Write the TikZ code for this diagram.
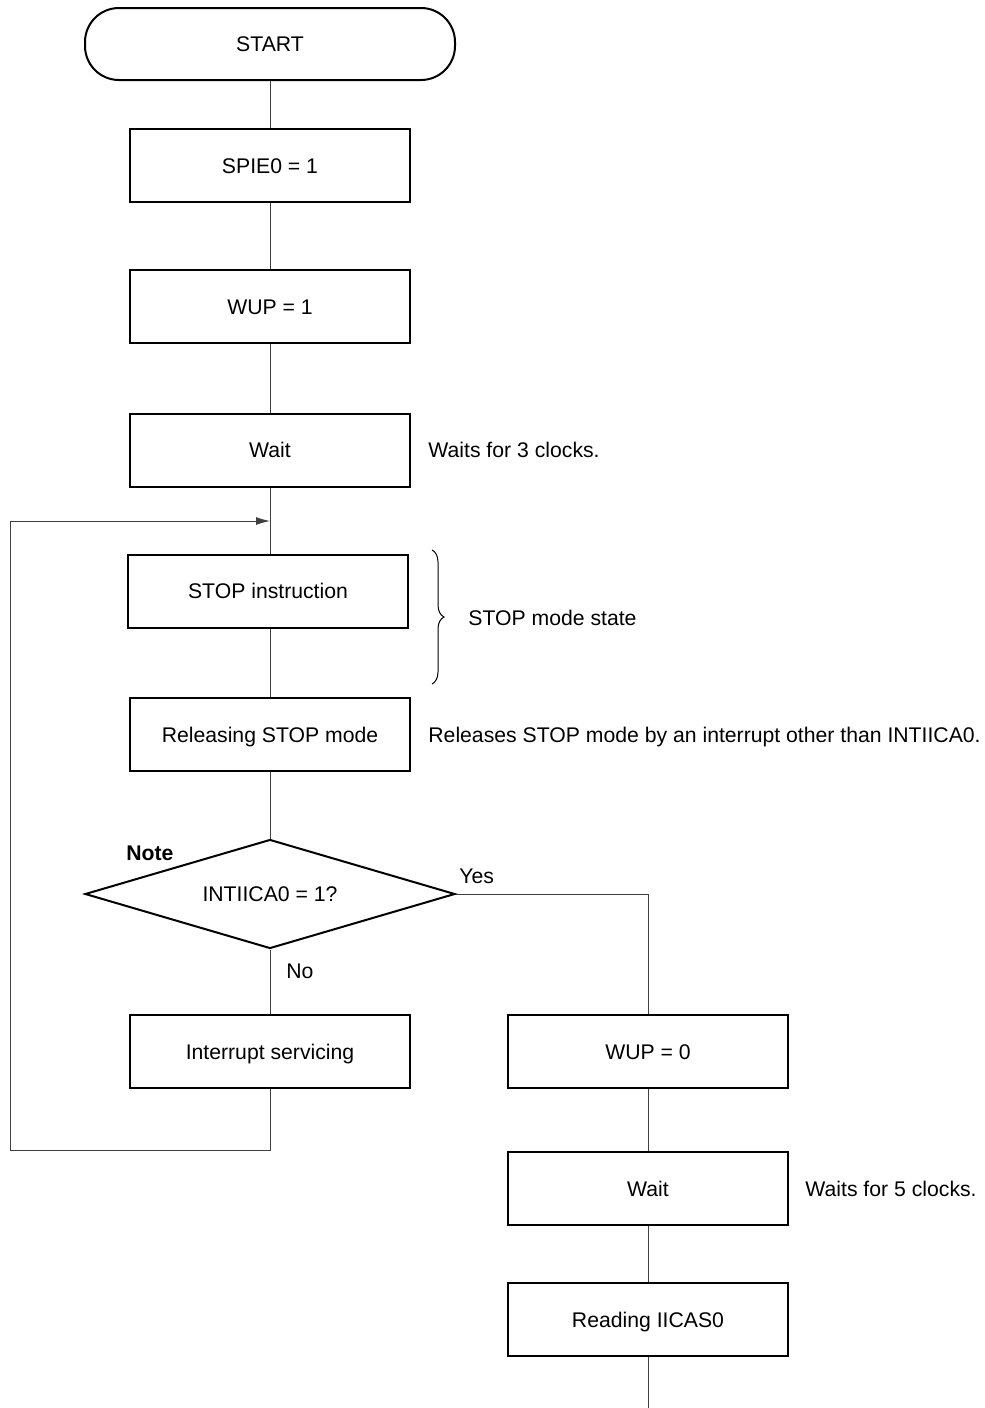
\documentclass[tikz,border=0pt]{standalone}
\usepackage{fontspec}
\setmainfont{Liberation Sans}
\usetikzlibrary{shapes.geometric,decorations.pathreplacing,arrows.meta}
\begin{document}
\begin{tikzpicture}[x=0.5pt,y=-0.5pt,
  every node/.style={font=\fontsize{10.6}{12.7}\selectfont},
  procbox/.style={draw=black,line width=1pt,minimum width=140pt,minimum height=36.5pt,inner sep=0pt,text height=7.6pt,text depth=0pt},
  termbox/.style={draw=black,line width=1pt,rounded corners=17pt,minimum width=185pt,minimum height=36pt,inner sep=0pt,text height=7.6pt,text depth=0pt},
  decbox/.style={draw=black,line width=1pt,diamond,aspect=3.4,minimum width=185pt,minimum height=54.5pt,inner sep=0pt,text height=7.6pt,text depth=0pt},
  conn/.style={draw=black!75,line width=0.5pt},
  note/.style={anchor=west,inner sep=0pt,text height=7.6pt,text depth=0pt}]
\useasboundingbox (0,0) rectangle (985,1408);
\node[termbox] (start) at (270,44) {START};
\node[procbox] (spie) at (270,165.5) {SPIE0 = 1};
\node[procbox] (wup1) at (270,306.5) {WUP = 1};
\node[procbox] (wait1) at (270,450) {Wait};
\node[note] (n1) at (428,450) {Waits for 3 clocks.};
\coordinate (loopin) at (270,521);
\node[procbox] (stop) at (268,591) {STOP instruction};
\node[note] (n2) at (468,618) {STOP mode state};
\node[procbox] (rel) at (270,734.5) {Releasing STOP mode};
\node[note] (n3) at (428,734.5) {Releases STOP mode by an interrupt other than INTIICA0.};
\node[decbox] (dec) at (270,894) {INTIICA0 = 1?};
\node[note,font=\fontsize{10.6}{12.7}\selectfont\bfseries] (note) at (126,853) {Note};
\node[note] (yes) at (459,876) {Yes};
\node[note] (no) at (286,971) {No};
\node[procbox] (isr) at (270,1051.5) {Interrupt servicing};
\node[procbox] (wup0) at (648,1051.5) {WUP = 0};
\node[procbox] (wait2) at (648,1188.5) {Wait};
\node[note] (n4) at (805,1188.5) {Waits for 5 clocks.};
\node[procbox] (read) at (648,1319.5) {Reading IICAS0};
\coordinate (endpt) at (648,1408);
\coordinate (c1) at (270,1150);
\coordinate (c2) at (10,1150);
\coordinate (c3) at (10,521);
\coordinate (c4) at (648,894);
\coordinate (b1) at (432,550);
\coordinate (b2) at (432,684);
\draw[conn] (start) -- (spie);
\draw[conn] (spie) -- (wup1);
\draw[conn] (wup1) -- (wait1);
\draw[conn] (wait1.south) -- (stop.north -| wait1.south);
\draw[conn] (stop.south -| rel.north) -- (rel);
\draw[conn] (rel) -- (dec);
\draw[conn] (dec) -- (isr);
\draw[conn] (isr.south) -- (c1) -- (c2) -- (c3);
\draw[conn,-{Latex[length=7pt,width=4pt]}] (c3) -- (loopin);
\draw[conn] (dec.east) -- (c4) -- (wup0.north);
\draw[conn] (wup0) -- (wait2);
\draw[conn] (wait2) -- (read);
\draw[conn] (read) -- (endpt);
\draw[line width=0.5pt,decorate,decoration={brace,amplitude=6pt}] (b1) -- (b2);
\end{tikzpicture}
\end{document}
